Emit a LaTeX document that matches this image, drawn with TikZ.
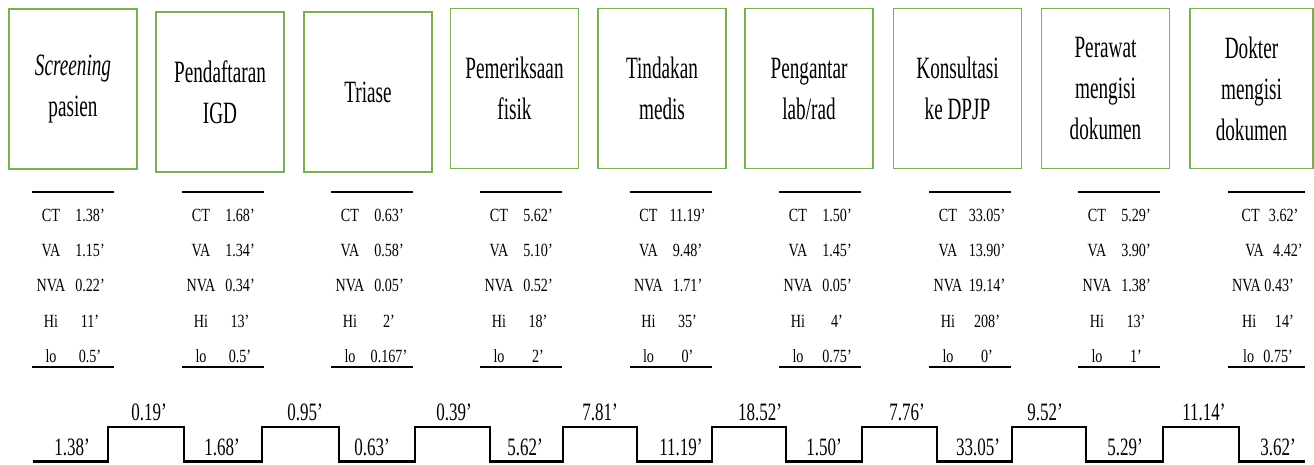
\documentclass[tikz,border=0pt]{standalone}
\usepackage{fontspec}
\setmainfont{Liberation Serif}
\newfontfamily\boxfont[FakeStretch=0.62]{Liberation Serif}
\newfontfamily\tabfont[FakeStretch=0.76]{Liberation Serif}
\newfontfamily\stepfont[FakeStretch=0.68]{Liberation Serif}
\definecolor{boxgreen}{RGB}{118,176,80}
\tikzset{
  procbox/.style={draw=boxgreen, line width=1.6pt, fill=white, inner sep=0pt,
    minimum width=128pt, minimum height=160pt, align=center,
    font=\boxfont\fontsize{31}{41}\selectfont, text=black},
  tabrule/.style={line width=2.3pt, black},
  tablab/.style={anchor=base, inner sep=0pt, font=\tabfont\fontsize{18.6}{20}\selectfont, text=black},
  steplab/.style={anchor=base, inner sep=0pt, font=\stepfont\fontsize{25}{28}\selectfont, text=black},
  stepline/.style={line width=2.6pt, black, line join=miter},
}
\begin{document}
\begin{tikzpicture}[x=1pt,y=-1pt]
\useasboundingbox (0,0) rectangle (1314,464);
% process boxes
\node[procbox] (b1) at (73,89) {\textit{Screening}\\pasien};
\node[procbox] (b2) at (220,92) {Pendaftaran\\IGD};
\node[procbox] (b3) at (368,92) {Triase};
\node[procbox] (b4) at (514.5,88.5) {Pemeriksaan\\fisik};
\node[procbox] (b5) at (662,88.5) {Tindakan\\medis};
\node[procbox] (b6) at (809,88.5) {Pengantar\\lab/rad};
\node[procbox] (b7) at (957.5,88.5) {Konsultasi\\ke DPJP};
\node[procbox] (b8) at (1105.5,88.5) {Perawat\\mengisi\\dokumen};
\node[procbox, minimum width=123pt] (b9) at (1251.5,88.5) {Dokter\\mengisi\\dokumen};
% data tables
\foreach \c/\n/\ct/\va/\nva/\hi/\lo in {73/1/1.38/1.15/0.22/11/0.5, 223/2/1.68/1.34/0.34/13/0.5, 372/3/0.63/0.58/0.05/2/0.167, 521/4/5.62/5.10/0.52/18/2, 670.5/5/11.19/9.48/1.71/35/0, 820/6/1.50/1.45/0.05/4/0.75, 970/7/33.05/13.90/19.14/208/0, 1119/8/5.29/3.90/1.38/13/1}{
  \draw[tabrule] (\c-41,192) -- (\c+41,192);
  \draw[tabrule] (\c-41,367) -- (\c+41,367);
  \node[tablab] (k\n a) at (\c-22,221) {CT};
  \node[tablab] (v\n a) at (\c+17,221) {\ct’};
  \node[tablab] (k\n b) at (\c-22,256.5) {VA};
  \node[tablab] (v\n b) at (\c+17,256.5) {\va’};
  \node[tablab] (k\n c) at (\c-22,291.5) {NVA};
  \node[tablab] (v\n c) at (\c+17,291.5) {\nva’};
  \node[tablab] (k\n d) at (\c-22,327) {Hi};
  \node[tablab] (v\n d) at (\c+17,327) {\hi’};
  \node[tablab] (k\n e) at (\c-22,362) {lo};
  \node[tablab] (v\n e) at (\c+17,362) {\lo’};
}
\draw[tabrule] (1228,192) -- (1305,192);
\draw[tabrule] (1228,367) -- (1305,367);
\node[tablab] (r9a) at (1270,221) {CT\enspace 3.62’};
\node[tablab] (r9b) at (1274,256.5) {VA\enspace 4.42’};
\node[tablab] (r9c) at (1263,291.5) {NVA 0.43’};
\node[tablab] (r9d) at (1268,327) {Hi\enspace\enspace 14’};
\node[tablab] (r9e) at (1268,362) {lo\enspace 0.75’};
% timeline
\coordinate (s0) at (33,461.5);
\draw[stepline] (s0) -- (108,461.5) -- (108,427) -- (184,427) -- (184,461.5)
  -- (262,461.5) -- (262,427) -- (339,427) -- (339,461.5)
  -- (415,461.5) -- (415,427) -- (490,427) -- (490,461.5)
  -- (563,461.5) -- (563,427) -- (637,427) -- (637,461.5)
  -- (712,461.5) -- (712,427) -- (786,427) -- (786,461.5)
  -- (862,461.5) -- (862,427) -- (937,427) -- (937,461.5)
  -- (1012,461.5) -- (1012,427) -- (1086,427) -- (1086,461.5)
  -- (1163,461.5) -- (1163,427) -- (1239,427) -- (1239,461.5)
  -- (1305,461.5);
\foreach \x/\t/\n in {72/1.38/1, 222/1.68/2, 372/0.63/3, 525/5.62/4, 681/11.19/5, 824/1.50/6, 978/33.05/7, 1125/5.29/8, 1278/3.62/9}{
  \node[steplab] (lo\n) at (\x,455) {\t’};
}
\foreach \x/\t/\n in {149/0.19/1, 305/0.95/2, 454/0.39/3, 600/7.81/4, 760/18.52/5, 907/7.76/6, 1045/9.52/7, 1204/11.14/8}{
  \node[steplab] (hi\n) at (\x,420) {\t’};
}
\end{tikzpicture}
\end{document}
